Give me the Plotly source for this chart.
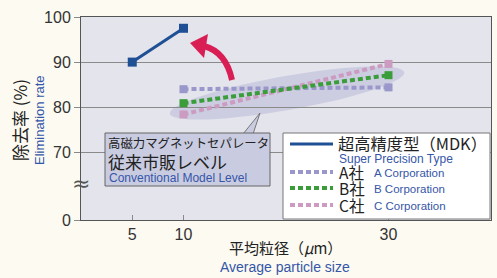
import numpy as np
import plotly.graph_objects as go

# ---- data ----
x_mdk = [5, 10]
y_mdk = [90, 97.5]
x_abc = [10, 30]
y_a = [84.0, 84.4]
y_b = [80.9, 87.1]
y_c = [78.4, 89.6]

x_ticks = [5, 10, 30]
y_tickvals = [55, 70, 80, 90, 100]   # 55 is where the broken axis shows "0"
y_ticktext = ["0", "70", "80", "90", "100"]

C_MDK = "#1f4f94"
C_A = "#9a97cb"
C_B = "#3a9d3a"
C_C = "#cc9bc1"
BLUE_TXT = "#3656a8"
JP = "Noto Sans CJK JP"
EN = "Liberation Sans"

# layout geometry (pixels)
L, T, W, H = 81, 17, 410, 203
XR = [0, 40]
YR = [55, 100]

def dx(px):
    return XR[0] + (px - L) / W * (XR[1] - XR[0])

def dy(py):
    return YR[0] + (T + H - py) / H * (YR[1] - YR[0])

def pxp(px):
    return (px - L) / W

def pyp(py):
    return (T + H - py) / H

fig = go.Figure()

dash_sq = "5px,3px"
fig.add_trace(go.Scatter(x=x_abc, y=y_a, mode="lines+markers",
                         line=dict(color=C_A, width=4, dash=dash_sq),
                         marker=dict(symbol="square", size=8, color=C_A),
                         showlegend=False))
fig.add_trace(go.Scatter(x=x_abc, y=y_c, mode="lines+markers",
                         line=dict(color=C_C, width=4, dash=dash_sq),
                         marker=dict(symbol="square", size=8, color=C_C),
                         showlegend=False))
fig.add_trace(go.Scatter(x=x_abc, y=y_b, mode="lines+markers",
                         line=dict(color=C_B, width=4, dash=dash_sq),
                         marker=dict(symbol="square", size=8, color=C_B),
                         showlegend=False))
fig.add_trace(go.Scatter(x=x_mdk, y=y_mdk, mode="lines+markers",
                         line=dict(color=C_MDK, width=3),
                         marker=dict(symbol="square", size=9, color=C_MDK),
                         showlegend=False))

shapes = []

# shaded ellipse (decoration)
cx, cy, a, b = 287, 93, 119, 17
ang = np.deg2rad(-10)
t = np.linspace(0, 2 * np.pi, 60)
ex = cx + a * np.cos(t) * np.cos(ang) - b * np.sin(t) * np.sin(ang)
ey = cy + a * np.cos(t) * np.sin(ang) + b * np.sin(t) * np.cos(ang)
path = "M " + " L ".join(f"{dx(u):.4f},{dy(v):.4f}" for u, v in zip(ex, ey)) + " Z"
shapes.append(dict(type="path", path=path, xref="x", yref="y", layer="below",
                   fillcolor="rgba(175,178,212,0.45)", line=dict(width=0)))

def P(u, v):
    return f"{dx(u):.4f},{dy(v):.4f}"

# red curved arrow
shapes.append(dict(type="path", xref="x", yref="y", layer="above",
                   path=f"M {P(232,80)} Q {P(226,52)} {P(204,46)}",
                   line=dict(color="#d81e55", width=6)))
shapes.append(dict(type="path", xref="x", yref="y", layer="above",
                   path=f"M {P(190,43)} L {P(208,34)} L {P(204,58)} Z",
                   fillcolor="#d81e55", line=dict(width=0)))

# callout box
shapes.append(dict(type="path", xref="x", yref="y", layer="above",
                   path=f"M {P(243,134)} L {P(260,113)} L {P(253,134)} Z",
                   fillcolor="#c9cbe0", line=dict(color="#777", width=1)))
shapes.append(dict(type="rect", xref="x", yref="y", layer="above",
                   x0=dx(105), x1=dx(270), y0=dy(133), y1=dy(186),
                   fillcolor="#c9cbe0", line=dict(color="#666", width=1)))

# legend box
shapes.append(dict(type="rect", xref="x", yref="y", layer="above",
                   x0=dx(283), x1=dx(490), y0=dy(133), y1=dy(219),
                   fillcolor="white", line=dict(color="#777", width=1)))
leg_rows = [(144, C_MDK, "solid", 3), (172, C_A, dash_sq, 4),
            (188, C_B, dash_sq, 4), (205, C_C, dash_sq, 4)]
for yy, col, dsh, wd in leg_rows:
    shapes.append(dict(type="line", xref="x", yref="y", layer="above",
                       x0=dx(290), x1=dx(333), y0=dy(yy), y1=dy(yy),
                       line=dict(color=col, width=wd, dash=dsh)))

ann = []
def add_text(px, py, text, size, color="#222", font=JP, xanchor="left", angle=0, yanchor="middle"):
    ann.append(dict(x=pxp(px), y=pyp(py), xref="paper", yref="paper", text=text,
                    showarrow=False, xanchor=xanchor, yanchor=yanchor, textangle=angle,
                    font=dict(size=size, color=color, family=font)))

# callout text
add_text(106, 143, "高磁力マグネットセパレータ", 12.4)
add_text(106, 161, "従来市販レベル", 17)
add_text(107, 178, "Conventional Model Level", 12, BLUE_TXT, EN)

# legend text
add_text(336, 143, "超高精度型（MDK）", 16.3)
add_text(337, 159, "Super Precision Type", 12, BLUE_TXT, EN)
for yy, lab, sub in [(172, "A社", "A Corporation"), (188, "B社", "B Corporation"),
                     (205, "C社", "C Corporation")]:
    add_text(337, yy, lab, 15.5)
    add_text(372, yy + 1, sub, 11.5, BLUE_TXT, EN)

# axis titles
add_text(20, 120, "除去率 (%)", 17, "#222", JP, "center", -90)
add_text(40, 120, "Elimination rate", 13, BLUE_TXT, EN, "center", -90)
add_text(285, 247, "平均粒径（<i>μ</i>m）", 15, "#222", JP, "center")
add_text(285, 267, "Average particle size", 14, BLUE_TXT, EN, "center")

# broken-axis mark
ann.append(dict(x=0, y=pyp(183), xref="paper", yref="paper", text="≈",
                showarrow=False, xanchor="center", yanchor="middle",
                font=dict(size=22, color="#555", family="DejaVu Sans")))

fig.update_layout(
    width=497, height=278,
    margin=dict(l=L, r=497 - L - W, t=T, b=278 - T - H),
    paper_bgcolor="#fcfaf1",
    plot_bgcolor="#e4e4ec",
    shapes=shapes,
    annotations=ann,
    showlegend=False,
    xaxis=dict(range=XR, tickvals=x_ticks, ticks="inside", ticklen=5, tickcolor="#888",
               showgrid=False, zeroline=False, showline=True, linecolor="#555",
               linewidth=1, mirror=True,
               tickfont=dict(size=16, color="#333", family=EN)),
    yaxis=dict(range=YR, tickvals=y_tickvals, ticktext=y_ticktext, ticks="outside",
               ticklen=6, tickcolor="#888", showgrid=True, gridcolor="#8a8a8a",
               gridwidth=1, zeroline=False, showline=True, linecolor="#555",
               linewidth=1, mirror=True,
               tickfont=dict(size=16, color="#333", family=EN)),
)

fig.write_html("out.html", config={"displayModeBar": False},
               post_script="document.body.style.margin='0';")
